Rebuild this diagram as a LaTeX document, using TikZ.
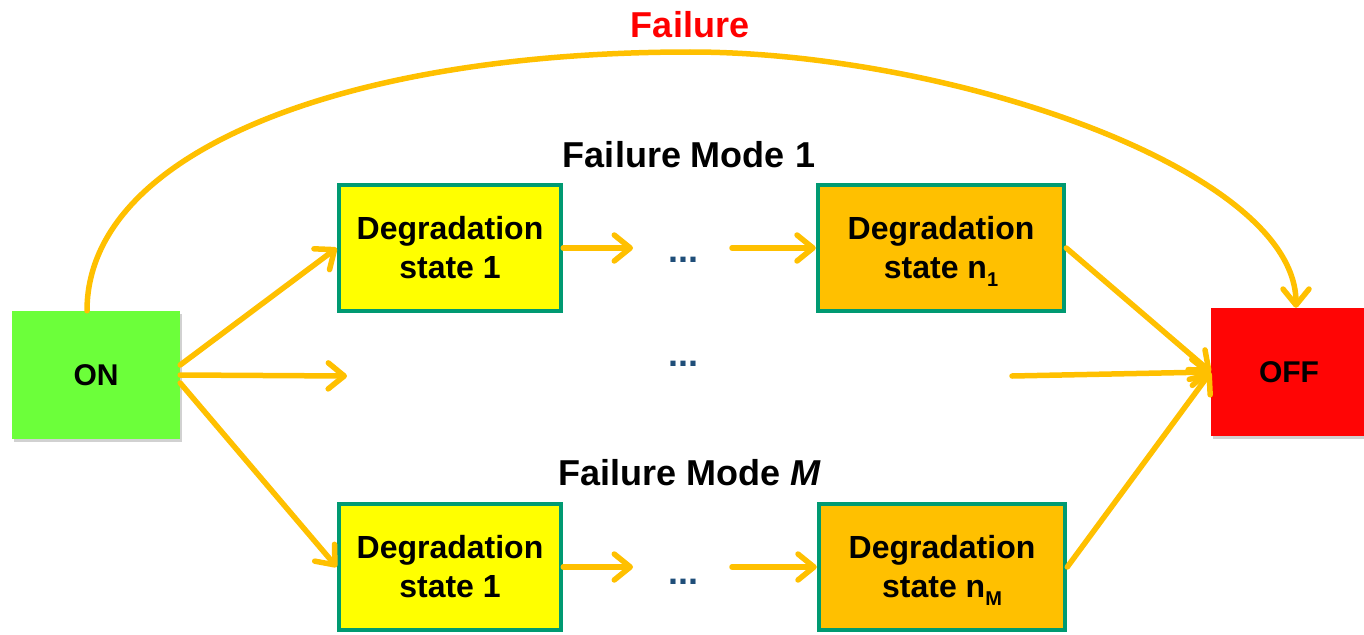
\documentclass[tikz,border=0pt]{standalone}
\usepackage{fontspec}
\setmainfont{Liberation Sans}
\usetikzlibrary{arrows.meta,shadows}
\definecolor{gold}{HTML}{FFC000}
\definecolor{frame}{HTML}{009A72}
\definecolor{onfill}{HTML}{6CFF3A}
\definecolor{offfill}{HTML}{FF0505}
\definecolor{dotblue}{HTML}{1F4E79}
\definecolor{early}{HTML}{FFFF00}
\definecolor{late}{HTML}{FFC000}
\definecolor{failred}{HTML}{FF0000}
\newcommand{\lowidx}[1]{\smash{\raisebox{-8pt}{\fontsize{20}{20}\selectfont #1}}}
\begin{document}
\begin{tikzpicture}[x=1pt,y=-1pt,
  font=\bfseries\fontsize{32}{39}\selectfont,
  flow/.style={draw=gold,line width=5.5pt,line cap=round,
    -{Straight Barb[length=16pt,width=26pt,line cap=round,line join=round]}},
  stage/.style={draw=frame,line width=4.5pt,align=center,inner sep=0pt,
    minimum height=126pt},
  endstate/.style={inner sep=0pt,minimum width=168pt,minimum height=128pt,
    font=\bfseries\fontsize{30}{36}\selectfont,
    drop shadow={shadow xshift=2pt,shadow yshift=-3pt,opacity=0.18,fill=black}},
  title/.style={font=\bfseries\fontsize{36}{42}\selectfont},
  more/.style={text=dotblue,font=\bfseries\fontsize{36}{40}\selectfont}
]
\useasboundingbox (0,0) rectangle (1364,634);

% start and end states
\node[endstate,fill=onfill] (on) at (96,375) {ON};
\node[endstate,fill=offfill,minimum width=156pt] (off) at (1289,372) {OFF};

% failure mode 1
\node[stage,fill=early,minimum width=222pt] (a1) at (450,248) {Degradation\\state 1};
\node[stage,fill=late,minimum width=246pt] (b1) at (941,248)
  {Degradation\\state n\lowidx{1}};

% failure mode M
\node[stage,fill=early,minimum width=222pt] (a2) at (450,567) {Degradation\\state 1};
\node[stage,fill=late,minimum width=246pt] (b2) at (942,567)
  {Degradation\\state n\lowidx{M}};

% labels
\node[title,text=failred] (lfail) at (690,25) {Failure};
\node[title] (lmode1) at (689,155) {Failure Mode 1};
\node[title] (lmodeM) at (690,473) {Failure Mode \textit{M}};

% intermediate states left out
\node[more] (m1) at (683,260) {...};
\node[more] (m0) at (683,364) {...};
\node[more] (m2) at (683,582) {...};

% loose arrow ends
\coordinate (a1out) at (633,248);
\coordinate (b1in) at (732,248);
\coordinate (a2out) at (633,567);
\coordinate (b2in) at (732,567);
\coordinate (midout) at (347,376);
\coordinate (midin) at (1012,376);
\coordinate (apex) at (690,52);

% transitions
\draw[flow] ([yshift=10pt]on.east) -- (a1.west);
\draw[flow] (on.east) -- (midout);
\draw[flow] ([yshift=-8pt]on.east) -- (a2.west);

\draw[flow] (a1.east) -- (a1out);
\draw[flow] (b1in) -- (b1.west);
\draw[flow] (a2.east) -- (a2out);
\draw[flow] (b2in) -- (b2.west);

\draw[flow] (b1.east) -- (off.west);
\draw[flow] (midin) -- (off.west);
\draw[flow] (b2.east) -- (off.west);

% direct failure
\draw[flow] ([xshift=-9pt]on.north) .. controls (87,150) and (350,52) .. (apex)
  .. controls (950,52) and (1296,170) .. ([xshift=7pt]off.north);
\end{tikzpicture}
\end{document}
